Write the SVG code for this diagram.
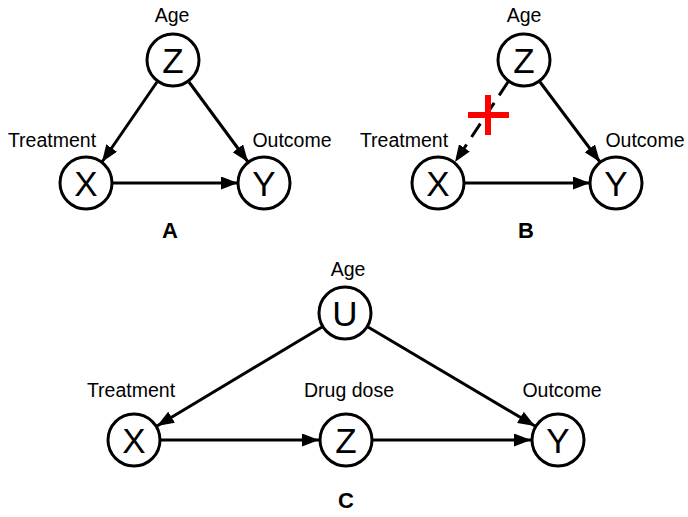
<svg xmlns="http://www.w3.org/2000/svg" width="688" height="517" viewBox="0 0 688 517">
<defs>
<marker id="arr" markerUnits="userSpaceOnUse" markerWidth="17" markerHeight="13" refX="17" refY="6.5" orient="auto">
<path d="M0,0 L17,6.5 L0,13 z" fill="#000"/>
</marker>
<style>
.node{fill:#fff;stroke:#000;stroke-width:3}
.let{font-family:"Liberation Sans",Arial,sans-serif;font-size:35px;text-anchor:middle;fill:#000}
.lab{font-family:"Liberation Sans",Arial,sans-serif;font-size:19.5px;text-anchor:middle;fill:#000}
.pan{font-family:"Liberation Sans",Arial,sans-serif;font-size:22px;font-weight:bold;text-anchor:middle;fill:#000}
.edge{stroke:#000;stroke-width:3;fill:none;marker-end:url(#arr)}
</style>
</defs>
<rect width="688" height="517" fill="#fff"/>
<g id="connectors">
<line class="edge" x1="157" y1="82" x2="102" y2="162"/>
<line class="edge" x1="189" y1="82" x2="248" y2="162"/>
<line class="edge" x1="113" y1="183" x2="238" y2="183"/>
<line class="edge" x1="508" y1="82" x2="455" y2="162" stroke-dasharray="16 9"/>
<line class="edge" x1="540" y1="82" x2="600" y2="162"/>
<line class="edge" x1="465" y1="183" x2="590" y2="183"/>
<line class="edge" x1="322" y1="327" x2="157" y2="426"/>
<line class="edge" x1="368" y1="327" x2="535" y2="426"/>
<line class="edge" x1="161" y1="440" x2="319" y2="440"/>
<line class="edge" x1="373" y1="440" x2="531" y2="440"/>
</g>
<g id="cross">
<rect x="468" y="112" width="41" height="6" fill="#ff0000"/>
<rect x="485" y="95" width="6" height="40" fill="#ff0000"/>
</g>
<g id="A-Z"><circle class="node" cx="173" cy="60" r="26"/><text class="let" x="173" y="72.5">Z</text><text class="lab" x="172" y="22">Age</text></g>
<g id="A-X"><circle class="node" cx="86" cy="183" r="26"/><text class="let" x="86" y="195.5">X</text><text class="lab" x="52" y="147">Treatment</text></g>
<g id="A-Y"><circle class="node" cx="264" cy="183" r="26"/><text class="let" x="264" y="195.5">Y</text><text class="lab" x="292" y="147">Outcome</text></g>
<g id="A-label"><text class="pan" x="170" y="238">A</text></g>
<g id="B-Z"><circle class="node" cx="524" cy="60" r="26"/><text class="let" x="524" y="72.5">Z</text><text class="lab" x="524" y="22">Age</text></g>
<g id="B-X"><circle class="node" cx="438" cy="183" r="26"/><text class="let" x="438" y="195.5">X</text><text class="lab" x="404" y="147">Treatment</text></g>
<g id="B-Y"><circle class="node" cx="616" cy="183" r="26"/><text class="let" x="616" y="195.5">Y</text><text class="lab" x="645" y="147">Outcome</text></g>
<g id="B-label"><text class="pan" x="526" y="238">B</text></g>
<g id="C-U"><circle class="node" cx="345" cy="313" r="26"/><text class="let" x="345" y="325.5">U</text><text class="lab" x="348" y="276">Age</text></g>
<g id="C-X"><circle class="node" cx="134" cy="440" r="26"/><text class="let" x="134" y="452.5">X</text><text class="lab" x="131" y="397">Treatment</text></g>
<g id="C-Z"><circle class="node" cx="346" cy="440" r="26"/><text class="let" x="346" y="452.5">Z</text><text class="lab" x="349" y="397">Drug dose</text></g>
<g id="C-Y"><circle class="node" cx="558" cy="440" r="26"/><text class="let" x="558" y="452.5">Y</text><text class="lab" x="562" y="397">Outcome</text></g>
<g id="C-label"><text class="pan" x="346" y="508">C</text></g>
</svg>
